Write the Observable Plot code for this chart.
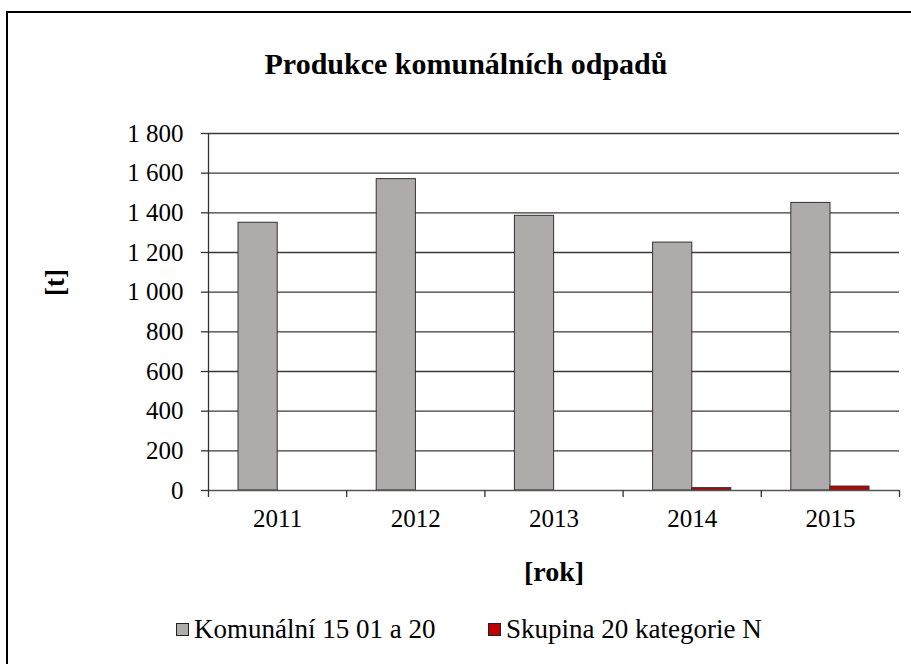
<!DOCTYPE html>
<html>
<head>
<meta charset="utf-8">
<script src="https://cdn.jsdelivr.net/npm/d3@7"></script>
<script src="https://cdn.jsdelivr.net/npm/@observablehq/plot@0.6"></script>
<style>
  html, body { margin: 0; padding: 0; width: 911px; height: 664px; overflow: hidden; background: #fff; }
  body { position: relative; font-family: 'Liberation Serif', 'Times New Roman', serif; }
  #border { position: absolute; left: 6px; top: 11px; width: 940px; height: 700px; border: 2px solid #000; box-sizing: border-box; }
  #title { position: absolute; left: 0; width: 932px; top: 47px; text-align: center; font-weight: bold; font-size: 30px; line-height: 34px; color: #000; }
  #chart { position: absolute; left: 0; top: 0; }
  .leg { position: absolute; top: 614px; font-size: 27px; line-height: 31px; color: #000; white-space: nowrap; }
  .sw { display: inline-block; width: 11px; height: 11px; border: 1px solid #222; vertical-align: 2px; margin-right: 5px; }
  #chart svg text { font-family: 'Liberation Serif', 'Times New Roman', serif; }
</style>
</head>
<body>
<div id="border"></div>
<div id="title">Produkce komunálních odpadů</div>
<div id="chart"></div>
<div class="leg" id="leg1" style="left:176px"></div>
<div class="leg" id="leg2" style="left:488px"></div>
<script>
const years = [2011, 2012, 2013, 2014, 2015];
const komunalni = [1350, 1570, 1385, 1250, 1450];
const skupina20 = [0, 0, 0, 12, 20];
const seriesNames = ["Komunální 15 01 a 20", "Skupina 20 kategorie N"];
const seriesColors = ["#AFABAB", "#C00000"];
const yTicks = [0, 200, 400, 600, 800, 1000, 1200, 1400, 1600, 1800];
const xBoundaries = [2010.5, 2011.5, 2012.5, 2013.5, 2014.5, 2015.5];
const xLabel = "[rok]";
const yLabel = "[t]";

const rowsA = years.map((y, i) => ({year: y, value: komunalni[i]}));
const rowsB = years.map((y, i) => ({year: y, value: skupina20[i]}));
const fmt = d => d3.format(",")(d).replace(/,/g, " ");

const plot = Plot.plot({
  width: 911,
  height: 600,
  marginLeft: 208,
  marginRight: 12,
  marginTop: 133,
  marginBottom: 110,
  style: { fontSize: "25px", color: "#000", background: "transparent" },
  x: { type: "linear", domain: [2010.5, 2015.5] },
  y: { domain: [0, 1800] },
  marks: [
    Plot.ruleY(yTicks.filter(d => d > 0), { stroke: "#3a3a3a", strokeWidth: 1.3 }),
    Plot.rectY(rowsA, { x1: d => d.year - 0.5, x2: d => d.year + 0.5, y: "value", fill: seriesColors[0], stroke: "#333", strokeWidth: 1, insetLeft: 30, insetRight: 69 }),
    Plot.rectY(rowsB, { x1: d => d.year - 0.5, x2: d => d.year + 0.5, y: "value", fill: seriesColors[1], stroke: "#333", strokeWidth: 1, insetLeft: 69, insetRight: 30 }),
    Plot.ruleY([0], { stroke: "#555", strokeWidth: 1.3 }),
    Plot.ruleX([2010.5], { stroke: "#333", strokeWidth: 1.3 }),
    Plot.axisY({ ticks: yTicks, tickSize: 7, tickPadding: 18, tickFormat: fmt, label: null, stroke: "#333", strokeWidth: 1.3 }),
    Plot.axisX({ ticks: xBoundaries, tickSize: 7, tickFormat: () => "", label: null, stroke: "#333", strokeWidth: 1.3 }),
    Plot.axisX({ ticks: years, tickSize: 0, tickPadding: 19, tickFormat: d => String(d), label: null }),
    Plot.text([xLabel], { frameAnchor: "bottom", dy: 90, fontWeight: "bold", fontSize: 28 }),
    Plot.text([yLabel], { frameAnchor: "left", dx: -153, dy: -16, rotate: -90, fontWeight: "bold", fontSize: 27 })
  ]
});
document.getElementById("chart").appendChild(plot);

const legs = [document.getElementById("leg1"), document.getElementById("leg2")];
seriesNames.forEach((n, i) => {
  const sw = document.createElement("span");
  sw.className = "sw";
  sw.style.background = seriesColors[i];
  legs[i].appendChild(sw);
  legs[i].appendChild(document.createTextNode(n));
});
</script>
</body>
</html>
